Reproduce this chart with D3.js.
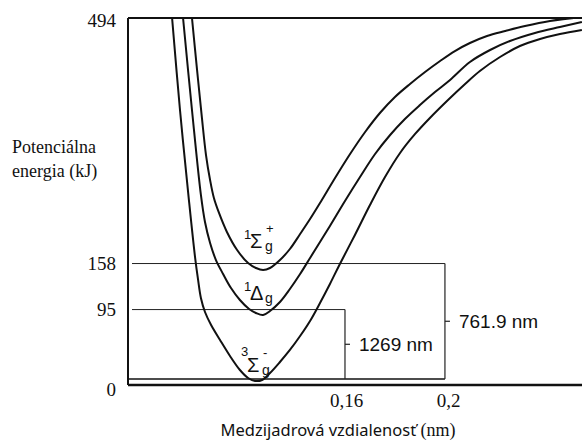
<!DOCTYPE html>
<html>
<head>
<meta charset="utf-8">
<script src="https://cdn.jsdelivr.net/npm/d3@7"></script>
<style>
  body { margin: 0; background: #fff; }
  svg { display: block; }
</style>
</head>
<body>
<div id="chart"></div>
<script>
// potential curves of O2, [distance nm, energy kJ]
const groundState = [
  [0.0918, 494], [0.0949, 368.1], [0.0984, 244.9], [0.1008, 166.9], [0.1020, 135.5],
  [0.1031, 110.8], [0.1047, 91.7], [0.1071, 73.9], [0.1106, 53.4], [0.1145, 31.5],
  [0.1184, 12.3], [0.1216, 1.4], [0.1243, -2.7], [0.1271, -1.4], [0.1302, 8.2],
  [0.1341, 23.3], [0.1380, 39.7], [0.1420, 58.8], [0.1459, 79.4], [0.1498, 104.0],
  [0.1537, 130.0], [0.1576, 157.4], [0.1635, 197.1], [0.1694, 238.1], [0.1753, 276.4],
  [0.1812, 309.3], [0.1871, 335.3], [0.1929, 357.2], [0.2000, 381.8], [0.2067, 403.7],
  [0.2125, 421.5], [0.2204, 440.6], [0.2282, 455.7], [0.2361, 465.3], [0.2439, 472.1],
  [0.2525, 477.6]
];
const deltaState = [
  [0.0961, 494], [0.0996, 368.1], [0.1031, 251.8], [0.1047, 214.8], [0.1067, 186.1],
  [0.1090, 162.8], [0.1118, 143.7], [0.1149, 124.5], [0.1184, 108.1], [0.1220, 95.8],
  [0.1247, 90.3], [0.1275, 87.6], [0.1302, 93.1], [0.1341, 105.4], [0.1380, 123.2],
  [0.1420, 143.7], [0.1459, 165.6], [0.1498, 187.5], [0.1537, 209.4], [0.1596, 243.6],
  [0.1655, 276.4], [0.1714, 307.9], [0.1773, 333.9], [0.1831, 355.8], [0.1890, 374.9],
  [0.1949, 392.7], [0.2008, 409.2], [0.2086, 433.8], [0.2165, 450.2], [0.2243, 462.5],
  [0.2341, 473.5], [0.2439, 481.7], [0.2525, 488.5]
];
const sigmaState = [
  [0.0996, 494], [0.1016, 422.8], [0.1035, 357.2], [0.1051, 306.5], [0.1067, 272.3],
  [0.1082, 247.7], [0.1102, 227.2], [0.1133, 201.2], [0.1173, 176.5], [0.1216, 158.7],
  [0.1247, 151.9], [0.1275, 149.2], [0.1302, 151.9], [0.1341, 162.8], [0.1380, 177.9],
  [0.1420, 198.4], [0.1459, 218.9], [0.1498, 240.8], [0.1557, 275.1], [0.1616, 307.9],
  [0.1675, 338.0], [0.1733, 364.0], [0.1792, 385.9], [0.1851, 403.7], [0.1910, 420.1],
  [0.1969, 435.2], [0.2027, 448.8], [0.2086, 459.8], [0.2153, 469.4], [0.2224, 476.2],
  [0.2302, 483.0], [0.2400, 489.9], [0.2525, 495.4]
];

const yTicks = [0, 95, 158, 494];
const xTicks = [0.16, 0.2];
const xTickLabels = ['0,16', '0,2'];

// transitions: wavelength, from level, to level, bracket distance
const transitionLabels = ['1269 nm', '761.9 nm'];
const transitionFrom = [0, 0];
const transitionTo = [95, 158];
const transitionR = [0.1596, 0.1988];

// state names
const statePrefix = ['1', '1', '3'];
const stateSymbol = ['Σ', 'Δ', 'Σ'];
const stateSup = ['+', '', '-'];
const stateAt = [[0.1224, 179.3], [0.1224, 108.1], [0.1212, 9.6]];

const width = 582, height = 441;
const left = 128, right = 582;

const x = d3.scaleLinear().domain([0.16, 0.2]).range([346, 448]);
const y = d3.scaleLinear().domain([0, 494]).range([379, 18]);
const axisY = y(0) + 6;

const svg = d3.select('#chart')
  .append('svg')
  .attr('width', width)
  .attr('height', height);

svg.append('clipPath')
  .attr('id', 'plot')
  .append('rect')
  .attr('x', left)
  .attr('y', y(494) - 1)
  .attr('width', right - left)
  .attr('height', axisY - y(494) + 1);

// frame
svg.append('line')
  .attr('x1', left).attr('x2', right)
  .attr('y1', y(494)).attr('y2', y(494))
  .attr('stroke', '#111').attr('stroke-width', 2);
svg.append('line')
  .attr('x1', left).attr('x2', left)
  .attr('y1', y(494)).attr('y2', axisY)
  .attr('stroke', '#111').attr('stroke-width', 2);
svg.append('line')
  .attr('x1', left).attr('x2', right)
  .attr('y1', axisY).attr('y2', axisY)
  .attr('stroke', '#111').attr('stroke-width', 2.5);

// energy levels and brackets
svg.append('line')
  .attr('x1', left).attr('x2', x(transitionR[1]))
  .attr('y1', y(0)).attr('y2', y(0))
  .attr('stroke', '#111').attr('stroke-width', 1.6);

transitionLabels.forEach((label, i) => {
  const xr = x(transitionR[i]);
  const top = y(transitionTo[i]);
  const mid = y((transitionFrom[i] + transitionTo[i]) / 2);
  svg.append('line')
    .attr('x1', left + 4).attr('x2', xr)
    .attr('y1', top).attr('y2', top)
    .attr('stroke', '#222').attr('stroke-width', 1);
  svg.append('line')
    .attr('x1', xr).attr('x2', xr)
    .attr('y1', top).attr('y2', y(transitionFrom[i]))
    .attr('stroke', '#222').attr('stroke-width', 1.2);
  svg.append('line')
    .attr('x1', xr).attr('x2', xr + 5)
    .attr('y1', mid).attr('y2', mid)
    .attr('stroke', '#222').attr('stroke-width', 1.2);
  svg.append('text')
    .attr('x', xr + 14)
    .attr('y', mid + 7)
    .attr('font-family', 'Liberation Sans, Arial, sans-serif')
    .attr('font-size', 19)
    .attr('fill', '#111')
    .text(label);
});

// curves
const line = d3.line()
  .x(d => x(d[0]))
  .y(d => y(d[1]))
  .curve(d3.curveCatmullRom.alpha(0.5));

svg.append('g')
  .attr('clip-path', 'url(#plot)')
  .selectAll('path')
  .data([groundState, deltaState, sigmaState])
  .enter()
  .append('path')
  .attr('d', line)
  .attr('fill', 'none')
  .attr('stroke', '#111')
  .attr('stroke-width', 2)
  .attr('stroke-linejoin', 'round');

// state labels, one text each
stateSymbol.forEach((sym, i) => {
  const px = x(stateAt[i][0]);
  const py = y(stateAt[i][1]);
  const t = svg.append('text')
    .attr('font-family', 'Liberation Sans, Arial, sans-serif')
    .attr('fill', '#111');
  t.append('tspan')
    .attr('x', px - 6).attr('y', py - (i === 2 ? 16 : 9))
    .attr('font-size', 13)
    .text(statePrefix[i]);
  t.append('tspan')
    .attr('x', px).attr('y', py)
    .attr('font-size', 20)
    .text(sym);
  t.append('tspan')
    .attr('x', px + 15).attr('y', py + 3)
    .attr('font-size', 14)
    .text('g');
  if (stateSup[i]) {
    t.append('tspan')
      .attr('x', px + 16).attr('y', py - 15)
      .attr('font-size', 13)
      .text(stateSup[i]);
  }
});

// axes (labels only)
const yAxis = svg.append('g')
  .attr('transform', `translate(${left},0)`)
  .call(d3.axisLeft(y).tickValues(yTicks).tickSize(0).tickPadding(12).tickFormat(d3.format('d')));
yAxis.select('.domain').remove();
yAxis.selectAll('text')
  .attr('font-family', 'Liberation Serif, Times New Roman, serif')
  .attr('font-size', 19)
  .attr('fill', '#111')
  .attr('dy', d => d === 0 ? '0.85em' : d === 494 ? '0.47em' : '0.3em');

const xAxis = svg.append('g')
  .attr('transform', `translate(0,${axisY})`)
  .call(d3.axisBottom(x).tickValues(xTicks).tickSize(0).tickPadding(9)
    .tickFormat((d, i) => xTickLabels[i]));
xAxis.select('.domain').remove();
xAxis.selectAll('text')
  .attr('font-family', 'Liberation Serif, Times New Roman, serif')
  .attr('font-size', 19)
  .attr('fill', '#111');

// titles
svg.append('text')
  .attr('x', 12).attr('y', 153)
  .attr('font-family', 'Liberation Serif, Times New Roman, serif')
  .attr('font-size', 18)
  .attr('fill', '#111')
  .text('Potenciálna');
svg.append('text')
  .attr('x', 12).attr('y', 177)
  .attr('font-family', 'Liberation Serif, Times New Roman, serif')
  .attr('font-size', 18)
  .attr('fill', '#111')
  .text('energia (kJ)');

const xTitle = svg.append('text')
  .attr('x', 338).attr('y', 436)
  .attr('text-anchor', 'middle')
  .attr('font-family', 'Noto Sans, sans-serif')
  .attr('font-size', 16.5)
  .attr('fill', '#111');
xTitle.append('tspan').text('Medzijadrová vzdialenosť ');
xTitle.append('tspan')
  .attr('font-family', 'Liberation Serif, Times New Roman, serif')
  .attr('font-size', 18)
  .text('(nm)');
</script>
</body>
</html>
